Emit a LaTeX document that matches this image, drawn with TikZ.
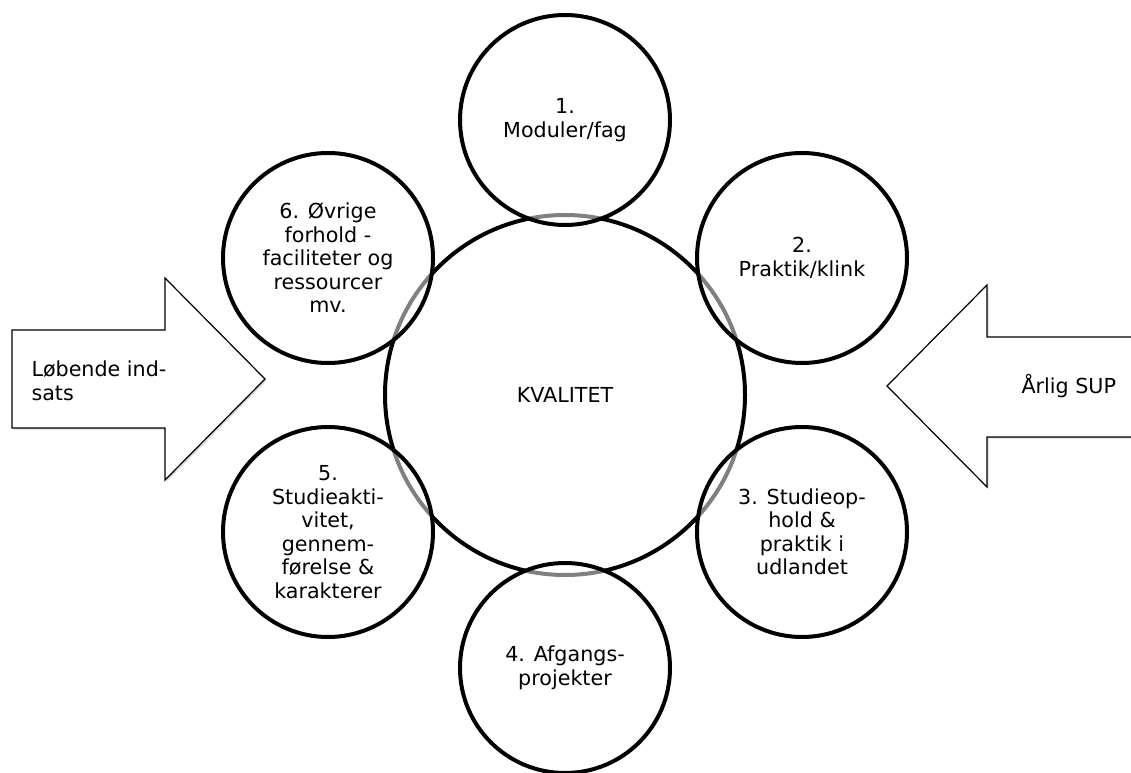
\documentclass[tikz,border=0pt]{standalone}
\usepackage{fontspec}
\setmainfont{DejaVu Sans}
\usetikzlibrary{shadows}

\newcommand{\tekstfont}{\fontsize{15.5}{17.6}\selectfont}
\tikzset{every picture/.style={line width=0.75pt}}
\tikzset{
	kerne/.style={draw, circle, line width=3pt, minimum size=270pt, inner sep=0pt, font=\tekstfont},
	ring/.style={draw, circle, line width=3pt, minimum size=157.5pt, inner sep=0pt,
		fill=white, fill opacity=0.5, text opacity=1, align=center, font=\tekstfont},
	blokpil/.style={draw, fill=white, line width=0.9pt, line join=miter,
		drop shadow={shadow xshift=1.2pt, shadow yshift=-1.2pt, opacity=0.3}},
	piltekst/.style={anchor=west, align=left, inner sep=0.75pt, font=\tekstfont}}

\begin{document}
\begin{tikzpicture}[x=0.75pt,y=0.75pt,yscale=-1,xscale=1]
	\clip (0,0) rectangle (1131,773);
	\fill[white] (0,0) rectangle (1131,773);
	
	%Shape: Right Arrow
	\draw [blokpil] (12,330) -- (165,330) -- (165,278) -- (265,379) -- (165,480) -- (165,428) -- (12,428) -- cycle ;
	%Shape: Left Arrow
	\draw [blokpil] (1145,337) -- (987,337) -- (987,285) -- (887,386) -- (987,487) -- (987,437) -- (1145,437) -- cycle ;
	
	%Shape: Circle (center)
	\node [kerne] (kvalitet) at (565,395) {KVALITET};
	
	%Shape: Circles round the center
	\node [ring] (modul) at (565,120) {1.\\Moduler/fag};
	\node [ring] (praktik) at (802,258) {2.\\Praktik/klink};
	\node [ring] (udland) at (802,532) {3. Studieop-\\hold \&\\praktik i\\udlandet};
	\node [ring] (afgang) at (565,668) {4. Afgangs-\\projekter};
	\node [ring] (aktivitet) at (328,532) {5.\\Studieakti-\\vitet,\\gennem-\\førelse \&\\karakterer};
	\node [ring] (oevrige) at (328,258) {6. Øvrige\\forhold -\\faciliteter og\\ressourcer\\mv.};
	
	% Text Node
	\node [piltekst] (loebende) at (30,381) {Løbende ind-\\sats};
	% Text Node
	\node [piltekst] (aarlig) at (1020,386) {Årlig SUP};
	
\end{tikzpicture}
\end{document}
